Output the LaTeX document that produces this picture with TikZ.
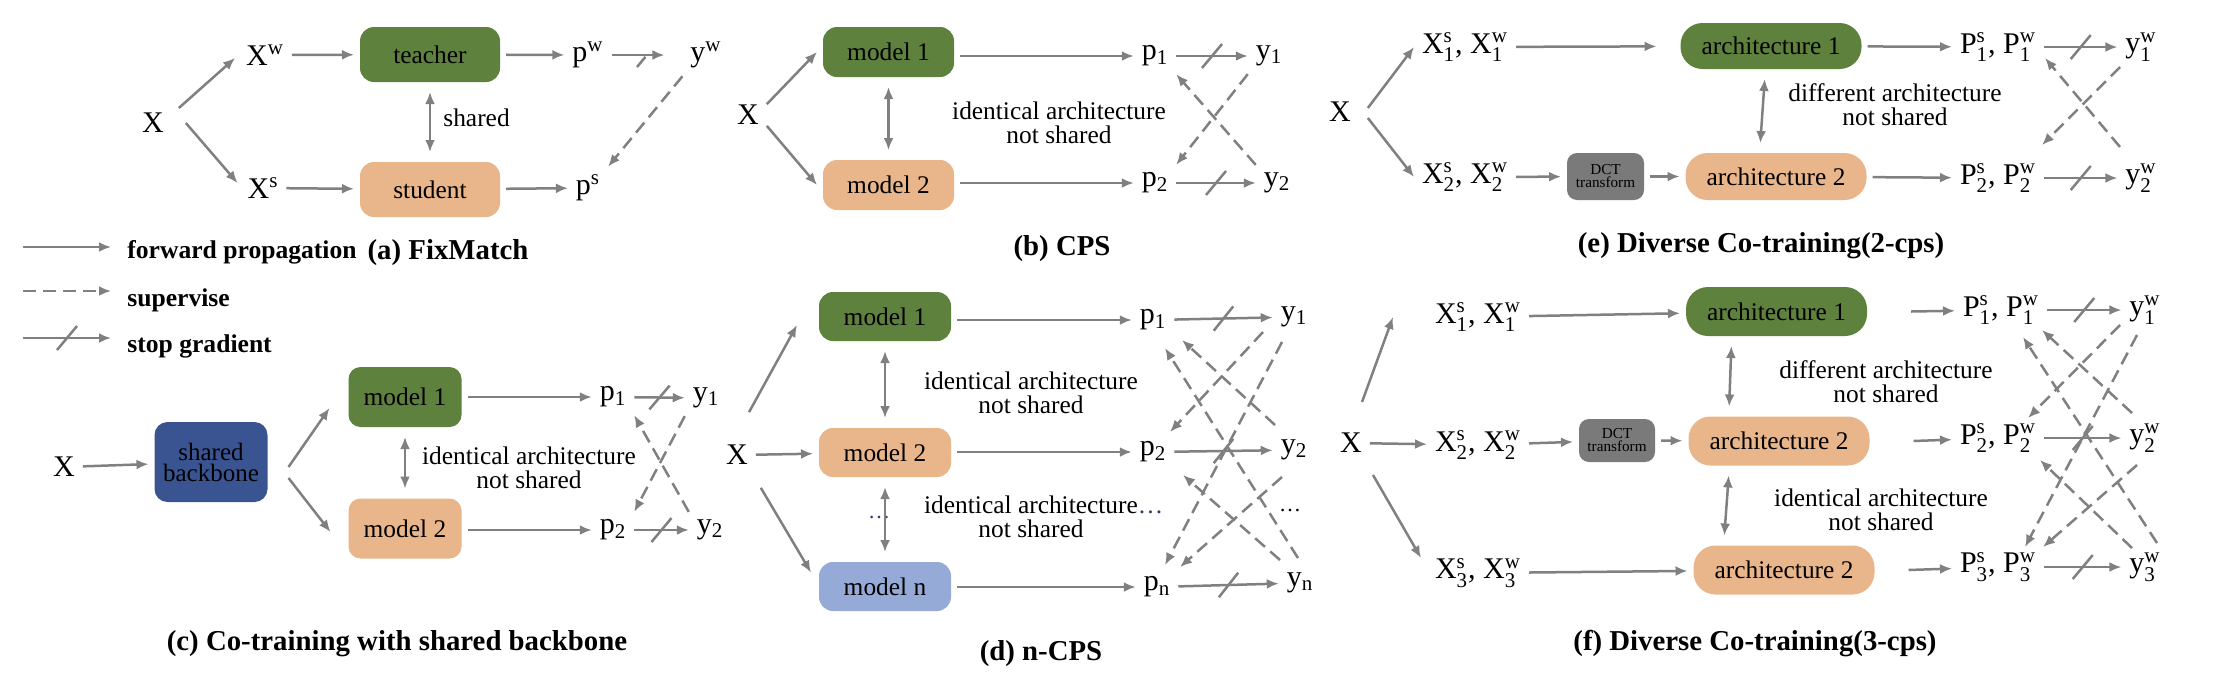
\documentclass[tikz,border=0pt]{standalone}
\usepackage{amsmath}
\usepackage{fontspec}
\setmainfont{Liberation Serif}
\usetikzlibrary{positioning,arrows.meta,decorations.markings}
\definecolor{mgreen}{RGB}{94,129,62}
\definecolor{morange}{RGB}{233,181,139}
\definecolor{mblue}{RGB}{58,84,145}
\definecolor{mlblue}{RGB}{149,170,214}
\definecolor{dctgray}{RGB}{122,122,122}
\definecolor{agray}{RGB}{128,128,128}
\definecolor{dotblue}{RGB}{45,60,110}

\begin{document}
\begin{tikzpicture}[x=0.5pt,y=-0.5pt,
    var node/.style={font=\fontsize{15}{16}\selectfont,inner sep=1pt,outer sep=3pt},
    model node/.style={rounded corners=7pt,font=\fontsize{12.7}{12}\selectfont,align=center,inner sep=1pt,outer sep=3pt},
    dct node/.style={model node,fill=dctgray,rounded corners=5pt,font=\fontsize{7.6}{6.5}\selectfont},
    note/.style={font=\fontsize{12.7}{12}\selectfont,align=center,inner sep=0pt},
    legend/.style={font=\fontsize{12.8}{14}\selectfont\bfseries,anchor=base west,inner sep=0pt},
    caption/.style={font=\fontsize{14.4}{16}\selectfont\bfseries,anchor=base,inner sep=0pt},
    fwd/.style={draw=agray,line width=1.25pt,-{Latex[length=6pt,width=5pt]}},
    sup/.style={fwd,dash pattern=on 6.5pt off 3.5pt},
    both/.style={draw=agray,line width=1.25pt,{Latex[length=6pt,width=5pt]}-{Latex[length=6pt,width=5pt]},shorten <=2pt,shorten >=2pt},
    sgrad/.style={fwd,postaction={decorate},decoration={markings,mark=at position 0.5 with {\draw[agray,line width=1.25pt,-] (-5pt,-6pt) -- (5pt,6pt);}}}]
  \useasboundingbox (0,0) rectangle (2214,676);

  % (a) FixMatch
  \node[var node] (aX) at (153,123) {X};
  \node[var node] (aXw) at (265,55) {X$^{\text{w}}$};
  \node[var node] (aXs) at (263,188) {X$^{\text{s}}$};
  \node[model node,fill=mgreen,minimum width=70pt,minimum height=27.5pt] (teacher) at (430,54.5) {teacher};
  \node[model node,fill=morange,minimum width=70pt,minimum height=27.5pt] (student) at (430,189.5) {student};
  \node[var node] (apw) at (588,55) {p$^{\text{w}}$};
  \node[var node] (ayw) at (706,55) {y$^{\text{w}}$};
  \node[var node] (aps) at (588,188) {p$^{\text{s}}$};
  \node[note,right] (ashared) at (443,118) {shared};
  \node[caption] (acap) at (448,259) {(a) FixMatch};

  \path ([shift={(7,-15)}]aX.east) edge[fwd] ([shift={(-3,3)}]aXw.west)
        ([xshift=7]aX.east) edge[fwd] ([shift={(-2,-5)}]aXs.west)
        (aXw) edge[fwd] (teacher)
        (aXs) edge[fwd] (student)
        (teacher) edge[fwd] (apw)
        (student) edge[fwd] (aps)
        (apw) edge[sgrad,shorten >=9pt] (ayw)
        (ayw.south west) edge[sup] (aps.north east)
        (teacher) edge[both] (student);

  % legend
  \coordinate (lfa) at (23,247);
  \coordinate (lfb) at (111,247);
  \coordinate (lsa) at (23,291);
  \coordinate (lsb) at (111,291);
  \coordinate (lga) at (23,338);
  \coordinate (lgb) at (111,338);
  \node[legend] (lfwd) at (127,258) {forward propagation};
  \node[legend] (lsup) at (127,306) {supervise};
  \node[legend] (lgrad) at (127,352) {stop gradient};
  \path (lfa) edge[fwd] (lfb)
        (lsa) edge[sup] (lsb)
        (lga) edge[sgrad] (lgb);

  % (b) CPS
  \node[var node] (bX) at (748,115) {X};
  \node[model node,fill=mgreen,minimum width=65.5pt,minimum height=25pt] (bm1) at (888.5,52) {model 1};
  \node[model node,fill=morange,minimum width=65.5pt,minimum height=25pt] (bm2) at (888.5,185) {model 2};
  \node[var node] (bp1) at (1155,56) {p$_{\text{1}}$};
  \node[var node] (by1) at (1269,56) {y$_{\text{1}}$};
  \node[var node] (bp2) at (1155,183) {p$_{\text{2}}$};
  \node[var node] (by2) at (1277,183) {y$_{\text{2}}$};
  \node[note] (bnote) at (1059,123) {identical architecture\\not shared};
  \node[caption] (bcap) at (1062,255) {(b) CPS};

  \path (bX.30) edge[fwd] (bm1.west)
        (bX.-30) edge[fwd] (bm2.west)
        (bm1) edge[both] (bm2)
        (bm1.east |- bp1) edge[fwd] (bp1)
        (bm2.east |- bp2) edge[fwd] (bp2)
        (bp1) edge[sgrad] (by1)
        (bp2) edge[sgrad] (by2)
        (by1.south west) edge[sup] (bp2.north east)
        (by2.north west) edge[sup] (bp1.south east);

  % (c) shared backbone
  \node[var node] (cX) at (64,467) {X};
  \node[model node,fill=mblue,minimum width=56.5pt,minimum height=40pt,rounded corners=6.5pt,font=\fontsize{12.5}{10.5}\selectfont] (cbb) at (211,462) {shared\\backbone};
  \node[model node,fill=mgreen,minimum width=56.5pt,minimum height=30pt,rounded corners=6pt] (cm1) at (405,397) {model 1};
  \node[model node,fill=morange,minimum width=56.5pt,minimum height=30pt,rounded corners=6pt] (cm2) at (405,528.5) {model 2};
  \node[var node] (cp1) at (613,397) {p$_{\text{1}}$};
  \node[var node] (cy1) at (706,398) {y$_{\text{1}}$};
  \node[var node] (cp2) at (613,530) {p$_{\text{2}}$};
  \node[var node] (cy2) at (710,530) {y$_{\text{2}}$};
  \node[note] (cnote) at (529,468) {identical architecture\\not shared};
  \node[caption] (ccap) at (397,650) {(c) Co-training with shared backbone};

  \path (cX) edge[fwd] (cbb)
        ([shift={(15,5)}]cbb.east) edge[fwd] ([shift={(-13,11)}]cm1.west)
        ([shift={(15,16)}]cbb.east) edge[fwd] ([shift={(-12,3.5)}]cm2.west)
        (cm1) edge[both] (cm2)
        (cm1.east |- cp1) edge[fwd] (cp1)
        (cm2.east |- cp2) edge[fwd] (cp2)
        (cp1) edge[sgrad] (cy1)
        (cp2) edge[sgrad] (cy2)
        (cy1.south west) edge[sup] (cp2.north east)
        (cy2.north west) edge[sup] (cp1.south east);

  % (d) n-CPS
  \node[var node] (dX) at (737,455) {X};
  \node[model node,fill=mgreen,minimum width=66pt,minimum height=24.5pt] (dm1) at (885,316.5) {model 1};
  \node[model node,fill=morange,minimum width=66pt,minimum height=24.5pt] (dm2) at (885,452.5) {model 2};
  \node[model node,fill=mlblue,minimum width=66pt,minimum height=24.5pt] (dmn) at (885,586.5) {model n};
  \node[var node] (dp1) at (1153,320) {p$_{\text{1}}$};
  \node[var node] (dy1) at (1294,317) {y$_{\text{1}}$};
  \node[var node] (dp2) at (1153,452) {p$_{\text{2}}$};
  \node[var node] (dy2) at (1294,450) {y$_{\text{2}}$};
  \node[var node] (dpn) at (1157,587) {p$_{\text{n}}$};
  \node[var node] (dyn) at (1300,583) {y$_{\text{n}}$};
  \node[inner sep=0pt,text=dotblue,font=\fontsize{11}{12}\selectfont] (ddots) at (879,517) {\dots};
  \node[inner sep=0pt,font=\fontsize{11}{12}\selectfont] (dydots) at (1290,510) {\dots};
  \node[note] (dnote1) at (1031,393) {identical architecture\\not shared};
  \node[note] (dnote2) at (1031,517) {identical architecture\rlap{\textcolor{dotblue}{\dots}}\\not shared};
  \node[caption] (dcap) at (1041,660) {(d) n-CPS};

  \path ([shift={(12,-25)}]dX.north) edge[fwd] ([shift={(-16,8.5)}]dm1.west)
        (dX) edge[fwd] (dm2)
        ([shift={(5,15)}]dX.south east) edge[fwd] ([shift={(-2,-14)}]dmn.west)
        (dm1) edge[both] (dm2)
        (dm2) edge[both] (dmn)
        (dm1.east |- dp1) edge[fwd] (dp1)
        (dm2.east |- dp2) edge[fwd] (dp2)
        (dmn.east |- dpn) edge[fwd] (dpn)
        (dp1) edge[sgrad] (dy1)
        (dp2) edge[sgrad] (dy2)
        (dpn) edge[sgrad] (dyn)
        ([shift={(-31,15)}]dy1.center) edge[sup] ([shift={(17,-20)}]dp2.center)
        ([shift={(-12,25)}]dy1.center) edge[sup] ([shift={(8,-22)}]dpn.center)
        ([shift={(-19,-25)}]dy2.center) edge[sup] ([shift={(29,20)}]dp1.center)
        ([shift={(-12,27)}]dy2.center) edge[sup] ([shift={(23,-20)}]dpn.center)
        ([shift={(-2,-25)}]dyn.center) edge[sup] ([shift={(12,28)}]dp1.center)
        ([shift={(-20,-23)}]dyn.center) edge[sup] ([shift={(30,23)}]dp2.center);

  % (e) Diverse Co-training (2-cps)
  \node[var node] (eX) at (1340,112) {X};
  \node[var node] (eX1) at (1465,47) {X$^{\text{s}}_{\text{1}}$, X$^{\text{w}}_{\text{1}}$};
  \node[var node] (eX2) at (1465,177) {X$^{\text{s}}_{\text{2}}$, X$^{\text{w}}_{\text{2}}$};
  \node[dct node,minimum width=38.5pt,minimum height=23.5pt] (edct) at (1605.5,176.5) {DCT\\transform};
  \node[model node,fill=mgreen,minimum width=90.5pt,minimum height=23pt,rounded corners=11pt] (earch1) at (1771,46) {architecture 1};
  \node[model node,fill=morange,minimum width=90.5pt,minimum height=23.5pt,rounded corners=11pt] (earch2) at (1776,176.5) {architecture 2};
  \node[var node] (eP1) at (1998,47) {P$^{\text{s}}_{\text{1}}$, P$^{\text{w}}_{\text{1}}$};
  \node[var node] (ey1) at (2141,47) {y$^{\text{w}}_{\text{1}}$};
  \node[var node] (eP2) at (1998,178) {P$^{\text{s}}_{\text{2}}$, P$^{\text{w}}_{\text{2}}$};
  \node[var node] (ey2) at (2141,178) {y$^{\text{w}}_{\text{2}}$};
  \node[note] (enote) at (1895,105) {different architecture\\not shared};
  \node[caption] (ecap) at (1761,252) {(e) Diverse Co-training(2-cps)};

  \path ([shift={(9,-4)}]eX.east) edge[fwd] (eX1.west)
        ([shift={(9,6)}]eX.east) edge[fwd] (eX2.west)
        (eX1) edge[fwd,shorten >=9pt] (earch1)
        (eX2) edge[fwd] (edct)
        (edct) edge[fwd] (earch2)
        ([xshift=-3]earch1.south) edge[both] ([xshift=-8]earch2.north)
        (earch1) edge[fwd] (eP1)
        (earch2) edge[fwd] (eP2)
        (eP1) edge[sgrad] (ey1)
        (eP2) edge[sgrad] (ey2)
        ([shift={(-21,20)}]ey1.center) edge[sup] ([shift={(44,-33)}]eP2.center)
        ([shift={(-21,-31)}]ey2.center) edge[sup] ([shift={(47,11)}]eP1.center);

  % (f) Diverse Co-training (3-cps)
  \node[var node] (fX) at (1351,443) {X};
  \node[var node] (fX1) at (1478,317) {X$^{\text{s}}_{\text{1}}$, X$^{\text{w}}_{\text{1}}$};
  \node[var node] (fX2) at (1478,445) {X$^{\text{s}}_{\text{2}}$, X$^{\text{w}}_{\text{2}}$};
  \node[var node] (fX3) at (1478,573) {X$^{\text{s}}_{\text{3}}$, X$^{\text{w}}_{\text{3}}$};
  \node[dct node,minimum width=38pt,minimum height=21.5pt] (fdct) at (1617,440.5) {DCT\\transform};
  \node[model node,fill=mgreen,minimum width=90.5pt,minimum height=24.5pt,rounded corners=11pt] (farch1) at (1776.5,311.5) {architecture 1};
  \node[model node,fill=morange,minimum width=90.5pt,minimum height=24.5pt,rounded corners=11pt] (farch2) at (1779,441) {architecture 2};
  \node[model node,fill=morange,minimum width=90.5pt,minimum height=24.5pt,rounded corners=11pt] (farch3) at (1784,570) {architecture 2};
  \node[var node] (fP1) at (2001,310) {P$^{\text{s}}_{\text{1}}$, P$^{\text{w}}_{\text{1}}$};
  \node[var node] (fy1) at (2145,310) {y$^{\text{w}}_{\text{1}}$};
  \node[var node] (fP2) at (1998,438) {P$^{\text{s}}_{\text{2}}$, P$^{\text{w}}_{\text{2}}$};
  \node[var node] (fy2) at (2145,438) {y$^{\text{w}}_{\text{2}}$};
  \node[var node] (fP3) at (1998,567) {P$^{\text{s}}_{\text{3}}$, P$^{\text{w}}_{\text{3}}$};
  \node[var node] (fy3) at (2145,567) {y$^{\text{w}}_{\text{3}}$};
  \node[note] (fnote1) at (1886,382) {different architecture\\not shared};
  \node[note] (fnote2) at (1881,510) {identical architecture\\not shared};
  \node[caption] (fcap) at (1755,650) {(f) Diverse Co-training(3-cps)};

  \path ([shift={(11,-41)}]fX.center) edge[fwd] ([xshift=-17]fX1.west)
        (fX) edge[fwd] (fX2)
        ([shift={(22,32)}]fX.center) edge[fwd] ([shift={(-6,-15)}]fX3.west)
        (fX1) edge[fwd] (farch1)
        (fX2) edge[fwd] (fdct)
        (fdct) edge[fwd] (farch2)
        (fX3) edge[fwd] (farch3)
        ([xshift=-22.5]farch1.south) edge[both] ([xshift=-25]farch2.north)
        ([xshift=-25]farch2.south) edge[both] ([xshift=-30]farch3.north)
        ([xshift=19]farch1.east) edge[fwd] (fP1)
        ([xshift=19]farch2.east) edge[fwd] (fP2)
        ([xshift=14]farch3.east) edge[fwd] (fP3)
        (fP1) edge[sgrad] (fy1)
        (fP2) edge[sgrad] (fy2)
        (fP3) edge[sgrad] (fy3)
        ([shift={(-25,15)}]fy1.center) edge[sup] ([shift={(30,-20)}]fP2.center)
        ([shift={(-8,25)}]fy1.center) edge[sup] ([shift={(27,-20)}]fP3.center)
        ([shift={(-13,-25)}]fy2.center) edge[sup] ([shift={(41,20)}]fP1.center)
        ([shift={(-8,27)}]fy2.center) edge[sup] ([shift={(45,-20)}]fP3.center)
        ([shift={(12,-24)}]fy3.center) edge[sup] ([shift={(22,27)}]fP1.center)
        ([shift={(-13,-19)}]fy3.center) edge[sup] ([shift={(42,22)}]fP2.center);
\end{tikzpicture}
\end{document}
